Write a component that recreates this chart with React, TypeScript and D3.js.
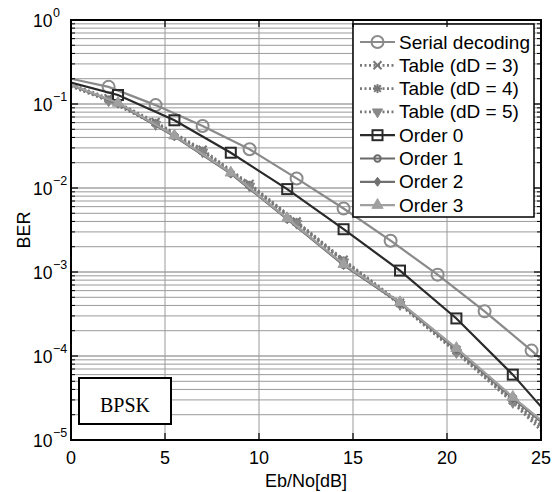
import React from "react";
import * as d3 from "d3";

// ---- data (Eb/No in dB, BER) ----
const ebnoSerial = [0, 2, 4.5, 7, 9.5, 12, 14.5, 17, 19.5, 22, 24.5, 25];
const berSerial = [0.2, 0.16, 0.097, 0.0547, 0.0289, 0.013, 5.7e-3, 2.36e-3, 9.3e-4, 3.4e-4, 1.16e-4, 9.2e-5];

const ebnoTable = [0, 2, 4.5, 7, 9.5, 12, 14.5, 17.5, 20.5, 23.5, 25];
const berTable3 = [0.172, 0.117, 0.061, 0.0285, 0.0112, 4.0e-3, 1.4e-3, 4.3e-4, 1.18e-4, 3.0e-5, 1.5e-5];
const berTable4 = [0.166, 0.112, 0.059, 0.0275, 0.0108, 3.9e-3, 1.36e-3, 4.2e-4, 1.14e-4, 2.9e-5, 1.4e-5];
const berTable5 = [0.162, 0.109, 0.057, 0.0268, 0.0105, 3.8e-3, 1.32e-3, 4.1e-4, 1.1e-4, 2.8e-5, 1.3e-5];

const ebnoOrder = [0, 2.5, 5.5, 8.5, 11.5, 14.5, 17.5, 20.5, 23.5, 25];
const berOrder0 = [0.18, 0.128, 0.064, 0.0263, 9.7e-3, 3.23e-3, 1.04e-3, 2.8e-4, 6.0e-5, 2.5e-5];
const berOrder1 = [0.168, 0.102, 0.0416, 0.015, 4.3e-3, 1.22e-3, 4.3e-4, 1.22e-4, 3.2e-5, 1.7e-5];
const berOrder2 = [0.168, 0.101, 0.0412, 0.0148, 4.25e-3, 1.21e-3, 4.25e-4, 1.2e-4, 3.15e-5, 1.65e-5];
const berOrder3 = [0.169, 0.103, 0.042, 0.0152, 4.35e-3, 1.24e-3, 4.35e-4, 1.24e-4, 3.25e-5, 1.72e-5];

const xTicks = [0, 5, 10, 15, 20, 25];
const yDecades = [0, -1, -2, -3, -4, -5];
const legendLabels = [
  "Serial decoding",
  "Table (dD = 3)",
  "Table (dD = 4)",
  "Table (dD = 5)",
  "Order 0",
  "Order 1",
  "Order 2",
  "Order 3",
];

type Marker = "circle" | "x" | "star" | "tridown" | "square" | "smallcircle" | "diamond" | "triup";

const series: { x: number[]; y: number[]; color: string; dash?: string; width: number; marker: Marker; mcolor: string }[] = [
  { x: ebnoSerial, y: berSerial, color: "#8a8a8a", width: 2.2, marker: "circle", mcolor: "#8a8a8a" },
  { x: ebnoTable, y: berTable3, color: "#7a7a7a", dash: "2,2.5", width: 2.8, marker: "x", mcolor: "#777" },
  { x: ebnoTable, y: berTable4, color: "#7a7a7a", dash: "2,2.5", width: 2.8, marker: "star", mcolor: "#777" },
  { x: ebnoTable, y: berTable5, color: "#7a7a7a", dash: "2,2.5", width: 2.8, marker: "tridown", mcolor: "#888" },
  { x: ebnoOrder, y: berOrder0, color: "#2a2a2a", width: 2.2, marker: "square", mcolor: "#2a2a2a" },
  { x: ebnoOrder, y: berOrder1, color: "#6a6a6a", width: 2.2, marker: "smallcircle", mcolor: "#6a6a6a" },
  { x: ebnoOrder, y: berOrder2, color: "#707070", width: 2.2, marker: "diamond", mcolor: "#707070" },
  { x: ebnoOrder, y: berOrder3, color: "#a0a0a0", width: 2.2, marker: "triup", mcolor: "#a0a0a0" },
];

const W = 552;
const H = 492;
const L = 71, R = 541, T = 20, B = 440;

const xScale = d3.scaleLinear().domain([0, 25]).range([L, R]);
const yScale = d3.scaleLog().domain([1e-5, 1]).range([B, T]);

function MarkerShape({ type, cx, cy, color }: { type: Marker; cx: number; cy: number; color: string }) {
  switch (type) {
    case "circle":
      return <circle cx={cx} cy={cy} r={6} fill="none" stroke={color} strokeWidth={2} />;
    case "smallcircle":
      return <circle cx={cx} cy={cy} r={3.2} fill="none" stroke={color} strokeWidth={2} />;
    case "square":
      return <rect x={cx - 5} y={cy - 5} width={10} height={10} fill="none" stroke={color} strokeWidth={2} />;
    case "x":
      return (
        <g stroke={color} strokeWidth={2}>
          <line x1={cx - 4} y1={cy - 4} x2={cx + 4} y2={cy + 4} />
          <line x1={cx - 4} y1={cy + 4} x2={cx + 4} y2={cy - 4} />
        </g>
      );
    case "star":
      return (
        <g stroke={color} strokeWidth={2}>
          <line x1={cx - 4.5} y1={cy} x2={cx + 4.5} y2={cy} />
          <line x1={cx} y1={cy - 4.5} x2={cx} y2={cy + 4.5} />
          <line x1={cx - 3.3} y1={cy - 3.3} x2={cx + 3.3} y2={cy + 3.3} />
          <line x1={cx - 3.3} y1={cy + 3.3} x2={cx + 3.3} y2={cy - 3.3} />
        </g>
      );
    case "tridown": {
      const p = d3.symbol().type(d3.symbolTriangle).size(45)();
      return <path d={p || ""} transform={`translate(${cx},${cy}) rotate(180)`} fill={color} stroke={color} strokeWidth={1} />;
    }
    case "triup": {
      const p = d3.symbol().type(d3.symbolTriangle).size(55)();
      return <path d={p || ""} transform={`translate(${cx},${cy})`} fill={color} stroke={color} strokeWidth={1} />;
    }
    case "diamond": {
      const s = 4.5;
      return (
        <path
          d={`M${cx},${cy - s} L${cx + s * 0.75},${cy} L${cx},${cy + s} L${cx - s * 0.75},${cy} Z`}
          fill={color}
          stroke={color}
          strokeWidth={1}
        />
      );
    }
  }
  return null;
}

export default function App() {
  const line = d3
    .line<[number, number]>()
    .x((d) => xScale(d[0]))
    .y((d) => yScale(d[1]));

  const minorVals: number[] = [];
  for (let k = -5; k < 0; k++) {
    for (let m = 2; m <= 9; m++) minorVals.push(m * Math.pow(10, k));
  }
  const majorVals = yDecades.map((k) => Math.pow(10, k));

  const legX = 353, legY = 24, legW = 181, legH = 193;
  const legRow0 = 42, legStep = 23.3;

  const font = "'Liberation Sans', Arial, sans-serif";

  return (
    <svg width={W} height={H} style={{ position: "absolute", left: 0, top: 0, background: "#fff" }} fontFamily={font}>
      <defs>
        <clipPath id="plotclip">
          <rect x={L} y={T} width={R - L} height={B - T} />
        </clipPath>
      </defs>
      <rect x={0} y={0} width={W} height={H} fill="#fff" />

      {/* grid */}
      <g>
        {minorVals.map((v, i) => (
          <line key={"mi" + i} x1={L} x2={R} y1={yScale(v)} y2={yScale(v)} stroke="#9a9a9a" strokeWidth={1} />
        ))}
        {majorVals.map((v, i) => (
          <line key={"ma" + i} x1={L} x2={R} y1={yScale(v)} y2={yScale(v)} stroke="#777" strokeWidth={1} />
        ))}
        {xTicks.slice(1, -1).map((t) => (
          <line key={"vx" + t} x1={xScale(t)} x2={xScale(t)} y1={T} y2={B} stroke="#9a9a9a" strokeWidth={1} />
        ))}
      </g>

      {/* series */}
      <g clipPath="url(#plotclip)">
        {series.map((s, i) => {
          const pts = s.x.map((x, j) => [x, s.y[j]] as [number, number]);
          return (
            <g key={"s" + i}>
              <path d={line(pts) || ""} fill="none" stroke={s.color} strokeWidth={s.width} strokeDasharray={s.dash} />
              {pts.slice(1, -1).map((p, j) => (
                <MarkerShape key={j} type={s.marker} cx={xScale(p[0])} cy={yScale(p[1])} color={s.mcolor} />
              ))}
            </g>
          );
        })}
      </g>

      {/* BPSK box */}
      <rect x={79} y={378} width={92} height={46} fill="#fff" stroke="#000" strokeWidth={2} />
      <text x={125} y={412} textAnchor="middle" fontFamily="'Liberation Serif', 'Times New Roman', serif" fontSize={20}>
        BPSK
      </text>

      {/* legend */}
      <rect x={legX} y={legY} width={legW} height={legH} fill="#fff" stroke="#000" strokeWidth={1.5} />
      {series.map((s, i) => {
        const y = legRow0 + i * legStep;
        return (
          <g key={"lg" + i}>
            <line x1={360} x2={395} y1={y} y2={y} stroke={s.color} strokeWidth={s.width} strokeDasharray={s.dash} />
            <MarkerShape type={s.marker} cx={377.5} cy={y} color={s.mcolor} />
            <text x={399} y={y + 6.5} fontSize={19} fill="#000">
              {legendLabels[i]}
            </text>
          </g>
        );
      })}

      {/* axes box */}
      <rect x={L} y={T} width={R - L} height={B - T} fill="none" stroke="#000" strokeWidth={2} />

      {/* y ticks */}
      {minorVals.map((v, i) => (
        <g key={"ymt" + i} stroke="#000" strokeWidth={1}>
          <line x1={L} x2={L + 4} y1={yScale(v)} y2={yScale(v)} />
          <line x1={R} x2={R - 4} y1={yScale(v)} y2={yScale(v)} />
        </g>
      ))}
      {majorVals.map((v, i) => (
        <g key={"yMt" + i} stroke="#000" strokeWidth={1.2}>
          <line x1={L} x2={L + 7} y1={yScale(v)} y2={yScale(v)} />
          <line x1={R} x2={R - 7} y1={yScale(v)} y2={yScale(v)} />
        </g>
      ))}
      {xTicks.map((t) => (
        <g key={"xt" + t} stroke="#000" strokeWidth={1.2}>
          <line x1={xScale(t)} x2={xScale(t)} y1={B} y2={B - 7} />
          <line x1={xScale(t)} x2={xScale(t)} y1={T} y2={T + 7} />
        </g>
      ))}

      {/* y tick labels */}
      {yDecades.map((k) => {
        const y = yScale(Math.pow(10, k));
        return (
          <g key={"yl" + k}>
            <text x={33} y={y + 7} fontSize={17.5}>
              10
            </text>
            <text x={53} y={y - 3} fontSize={12.5}>
              {k === 0 ? "0" : "\u2212" + Math.abs(k)}
            </text>
          </g>
        );
      })}

      {/* x tick labels */}
      {xTicks.map((t) => (
        <text key={"xl" + t} x={xScale(t)} y={464} fontSize={18} textAnchor="middle">
          {t}
        </text>
      ))}

      {/* axis labels */}
      <text x={(L + R) / 2} y={487} fontSize={18} textAnchor="middle">
        Eb/No[dB]
      </text>
      <text transform={`translate(30,${(T + B) / 2}) rotate(-90)`} fontSize={18} textAnchor="middle">
        BER
      </text>
    </svg>
  );
}
